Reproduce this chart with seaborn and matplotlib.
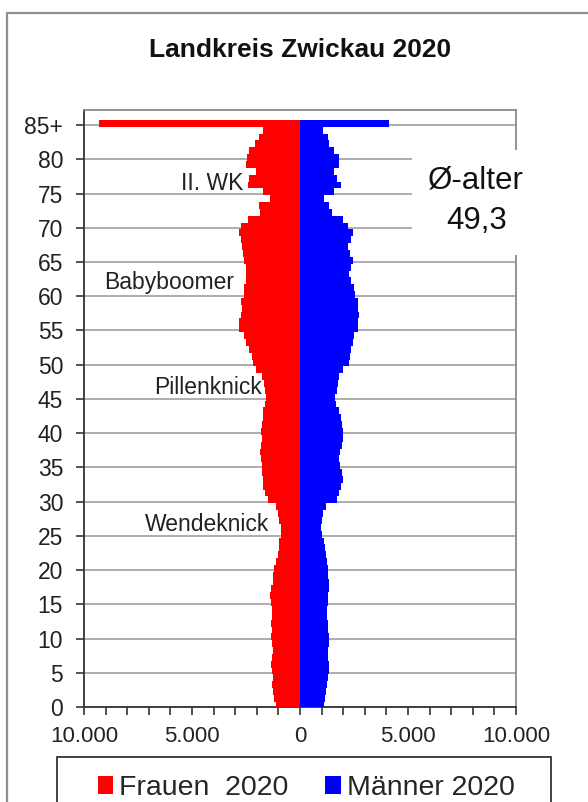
import numpy as np
import pandas as pd
import matplotlib
matplotlib.use("Agg")
import matplotlib.pyplot as plt
from matplotlib.patches import Rectangle, Patch
from matplotlib.ticker import FuncFormatter, MultipleLocator
import seaborn as sns

# ---- data ----
ages = list(range(0, 86))  # 85 = "85+"
frauen = [1110, 1190, 1230, 1300, 1270, 1300, 1340, 1300, 1270, 1300,
          1340, 1300, 1330, 1300, 1300, 1340, 1370, 1340, 1270, 1230,
          1190, 1110, 1030, 990, 960, 880, 880, 960, 1000, 1100,
          1500, 1600, 1700, 1730, 1760, 1760, 1810, 1850, 1810, 1760,
          1810, 1760, 1730, 1700, 1600, 1570, 1600, 1650, 1760, 2040,
          2160, 2220, 2350, 2500, 2580, 2840, 2810, 2730, 2690, 2730,
          2580, 2580, 2500, 2500, 2500, 2580, 2620, 2690, 2730, 2810,
          2730, 2420, 1850, 1880, 1390, 1730, 2420, 2350, 2040, 2500,
          2470, 2350, 2070, 1880, 1730, 9300]
maenner = [1130, 1170, 1200, 1230, 1280, 1330, 1330, 1280, 1300, 1330,
           1330, 1280, 1300, 1270, 1230, 1280, 1300, 1330, 1330, 1280,
           1280, 1230, 1200, 1170, 1130, 1020, 970, 1020, 1080, 1200,
           1700, 1790, 1900, 1980, 1940, 1850, 1820, 1850, 1940, 1980,
           2000, 1940, 1900, 1820, 1670, 1640, 1700, 1740, 1820, 1980,
           2280, 2330, 2360, 2440, 2520, 2670, 2670, 2720, 2670, 2670,
           2560, 2500, 2360, 2250, 2360, 2440, 2300, 2200, 2360, 2470,
           2200, 1980, 1480, 1330, 1130, 1590, 1900, 1700, 1560, 1790,
           1790, 1590, 1360, 1280, 1050, 4100]
tick_ages = list(range(0, 90, 5))
tick_labels = [str(a) for a in tick_ages[:-1]] + ["85+"]
x_ticks = [-10000, -5000, 0, 5000, 10000]
annotations = [("II. WK", -2620, 76.4), ("Babyboomer", -3040, 62.0),
               ("Pillenknick", -1745, 46.6), ("Wendeknick", -1420, 26.7)]
avg_label = "Ø-alter\n49,3"
title = "Landkreis Zwickau 2020"
legend_labels = ["Frauen  2020", "Männer 2020"]

df = pd.DataFrame({"age": np.array(ages) + 0.25,
                   "frauen": -np.array(frauen),
                   "maenner": np.array(maenner)})

sns.set_theme(style="white")
plt.rcParams["font.family"] = ["Liberation Sans", "DejaVu Sans"]

fig = plt.figure(figsize=(5.88, 8.02), dpi=100)
ax = fig.add_axes([84/588, 1-707/802, (516-84)/588, (707-110)/802])

RED = "#ff0000"
BLUE = "#0000ff"
sns.barplot(data=df, x="frauen", y="age", orient="y", native_scale=True,
            width=1.0, color=RED, saturation=1, errorbar=None, ax=ax,
            linewidth=0, zorder=3)
sns.barplot(data=df, x="maenner", y="age", orient="y", native_scale=True,
            width=1.0, color=BLUE, saturation=1, errorbar=None, ax=ax,
            linewidth=0, zorder=3)

ax.set_xlim(-10000, 10000)
ax.set_ylim(0, 87.2)
ax.set_xlabel("")
ax.set_ylabel("")

ax.set_yticks(tick_ages)
ax.set_yticklabels(tick_labels)
ax.set_xticks(x_ticks)
ax.xaxis.set_minor_locator(MultipleLocator(1000))
ax.xaxis.set_major_formatter(FuncFormatter(lambda v, p: f"{abs(int(v)):,}".replace(",", ".")))

ax.yaxis.grid(True, color="#a0a0a0", linewidth=1.2, zorder=0)
ax.xaxis.grid(False)
ax.set_axisbelow(True)

for s in ["top", "right"]:
    ax.spines[s].set_color("#8a8a8a")
    ax.spines[s].set_linewidth(1.3)
for s in ["left", "bottom"]:
    ax.spines[s].set_color("#333333")
    ax.spines[s].set_linewidth(1.3)

ax.tick_params(axis="y", which="major", left=True, length=6, width=1.2,
               color="#333333", pad=9, labelsize=16.5, labelcolor="#222222")
ax.tick_params(axis="x", which="both", bottom=True, length=5.5, width=1.2,
               color="#333333", pad=8, labelsize=16, labelcolor="#222222")

for txt, xv, yv in annotations:
    ax.text(xv, yv, txt, ha="right", va="center", fontsize=16.5,
            color="#222222", zorder=4)

# white box behind the average-age note
ax.add_patch(Rectangle((5200, 66.0), 5900, 15.3, facecolor="white",
                       edgecolor="none", zorder=5, clip_on=False))
ax.text(8160, 74.0, avg_label, ha="center", va="center", fontsize=22.5,
        color="#111111", linespacing=1.45, zorder=6, clip_on=False)

fig.text(300/588, 1-50/802, title, ha="center", va="center",
         fontsize=19, fontweight="bold", color="#111111")

# outer frame of the chart area
fig.patches.append(Rectangle((7/588, -0.1), 1.2, (1-13/802)+0.1,
                             transform=fig.transFigure, fill=False,
                             edgecolor="#8f8f8f", linewidth=1.6))
# legend box
fig.patches.append(Rectangle((57/588, -0.1), (551-57)/588, (802-757)/802+0.1,
                             transform=fig.transFigure, fill=False,
                             edgecolor="#333333", linewidth=1.3))

handles = [Patch(facecolor=RED, edgecolor="none"),
           Patch(facecolor=BLUE, edgecolor="none")]
fig.legend(handles, legend_labels, loc="center",
           bbox_to_anchor=(306/588, 1-788/802), ncol=2, frameon=False,
           fontsize=20.5, handlelength=0.55, handleheight=0.55,
           handletextpad=0.2, columnspacing=1.3, borderpad=0)

fig.savefig("out.png", dpi=100)
